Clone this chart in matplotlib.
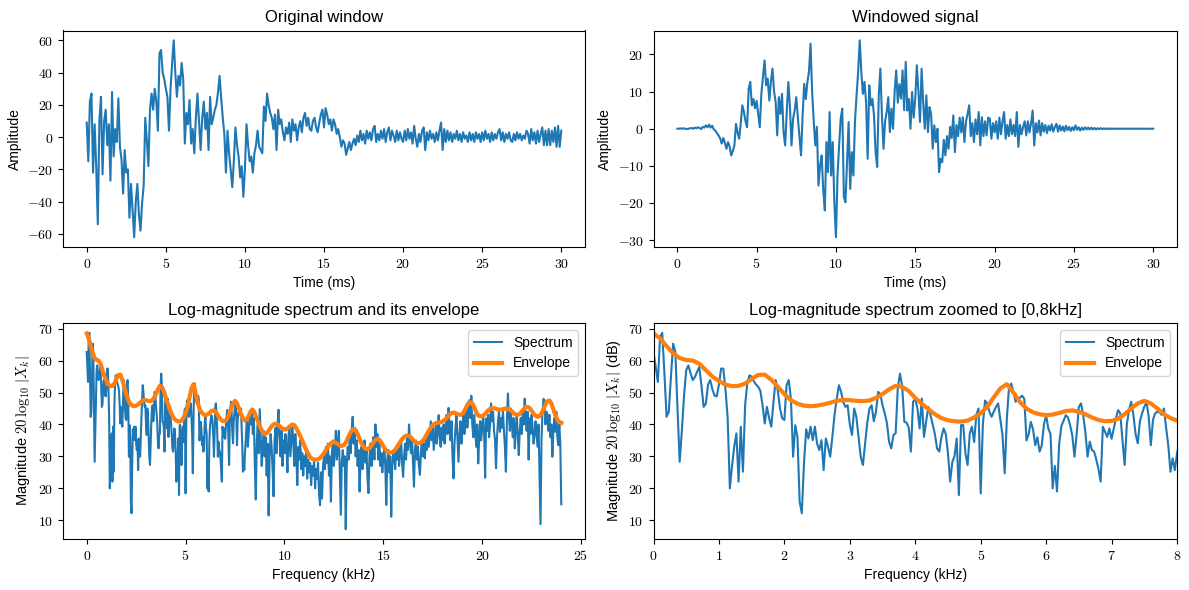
import numpy as np
import matplotlib
matplotlib.use('Agg')
import matplotlib.pyplot as plt
from matplotlib.ticker import FuncFormatter

plt.rcParams['font.family'] = ['Liberation Sans', 'DejaVu Sans']
plt.rcParams['mathtext.fontset'] = 'cm'

# ---------------- data ----------------
# original window, samples every 0.1 ms from 0 to 30 ms
original = [
    9, -15, 22, 27, -22, 8, -18, -54, 10, 25,
    -23, 10, 17, -5, 8, -27, 28, -12, 5, -3,
    24, -6, -14, -35, -8, -22, -20, -50, -29, -45,
    -62, -40, -29, -48, -58, -41, -30, 12, -2, -18,
    17, 27, 17, 30, 22, 4, 52, 54, 40, 36,
    30, 25, 4, 30, 46, 60, 40, 25, 38, 32,
    46, 36, -4, 15, 8, 23, -4, 5, -10, 12,
    27, 10, -8, 12, 22, 5, 15, -8, 25, 8,
    12, 17, 20, 28, 38, 24, 12, 2, -22, 4,
    -10, -20, -31, -15, 6, -5, -12, -25, -18, -37,
    -20, 8, -5, -15, -12, -22, -10, -5, 4, -6,
    -8, -10, 19, 10, 27, 20, 15, 12, 5, 14,
    -8, 17, 8, 11, 3, -2, 6, 2, 9, -3,
    11, 4, 8, -2, 6, 10, 3, 12, 15, 7,
    12, 5, 4, 10, 12, 6, 3, 9, 14, 17,
    6, 18, 14, 8, 11, 4, 11, 8, 2, 5,
    0, -6, -2, -4, -11, -7, -3, -8, -4, -1,
    -5, 1, -3, 4, -2, 2, -4, 4, -1, 3,
    -2, 5, 7, -3, 2, -2, 4, -1, 5, -3,
    3, 6, -2, 4, 1, -3, 4, -2, 3, -1,
    -3, 4, -2, 5, -1, 3, -4, 7, -1, -6,
    2, -3, 4, 6, -8, 3, -2, 4, -1, 2,
    -3, 3, -2, 4, 9, -8, 5, -3, 4, -2,
    3, -3, 2, -1, 4, -2, 2, -3, 3, -1,
    1, -3, 3, -2, 2, -3, 3, -1, 2, -3,
    3, -2, 4, -1, 2, -3, 3, -2, 2, -1,
    3, 5, -2, 3, -3, 2, -1, 3, -2, -3,
    2, -2, 3, -1, 2, -2, 1, -1, 4, 2,
    -4, 5, -2, 3, -4, 4, -3, 2, 6, -5,
    4, -5, 5, -5, 4, -3, 6, -6, 7, -6,
    4,
]

# windowed signal, samples every 0.1 ms from 0 to 30 ms
windowed = [
    0, 0, 0.1, 0, 0.1, 0, -0.1, 0, 0.1, 0.2,
    0, 0.3, 0.1, 0.4, 0.2, -0.1, 0.5, 0.3, 0.9, 0.4,
    1.1, 0.3, 0.8, -0.2, -0.5, -1.2, -1.8, -2.6, -4.0, -2.5,
    -3.8, -5.4, -3.6, -4.8, -7.2, -6.0, -4.5, 1.3, -1.0, -2.7,
    1.5, 6.3, 4.5, 2.0, 0.4, 10.8, 12.6, 6.3, 8.0, 5.5,
    7.5, 4.0, 0.4, 9.4, 14.0, 18.4, 11.7, 13.5, 7.6, 12.6,
    16.2, 10.0, 7.2, -1.8, 8.5, 4.0, 9.4, -1.0, -4.5, 4.5,
    12.6, 6.0, -4.5, 2.7, 5.0, 8.5, 3.0, -2.0, -7.2, 3.6,
    12.1, 8.0, 12.5, 15.3, 22.9, 9.9, 2.0, -4.5, 0.5, -15.3,
    -10.0, -7.2, -16.6, -22.0, -3.6, -11.7, 4.5, -12.6, -3.6, -20.0,
    -29.2, -12.6, -4.5, 2.7, 5.4, -18.4, -19.8, -9.0, 1.8, -16.2,
    -6.3, -12.6, 2.0, 9.0, 15.3, 23.8, 15.3, 9.4, 12.6, 7.2,
    -8.1, 11.7, 6.3, 8.0, 3.6, -6.3, -10.3, 9.0, 16.2, 3.6,
    -5.4, 2.0, 4.5, 8.5, -0.9, 5.4, 0.0, 10.0, 15.7, 7.0,
    12.0, 8.1, 15.7, 5.0, 18.0, 4.9, 8.0, 0.0, 9.9, 3.0,
    8.1, 17.1, 10.0, 1.8, 16.2, 7.0, 0.0, 9.0, -0.9, 5.8,
    4.0, -5.4, 0.9, -3.6, 0.0, -11.7, -8.1, -9.0, -3.0, -7.2,
    -2.0, -5.4, 0.5, -2.5, 3.6, -6.3, 1.0, -2.0, 3.0, -1.0,
    3.1, -3.6, 2.0, 4.0, 6.3, -2.0, 1.5, -3.6, 2.5, -1.5,
    4.5, -4.5, 3.1, -2.0, 2.0, -1.8, 3.0, 2.7, -2.7, 1.5,
    -1.0, 2.0, -2.7, 3.0, -1.5, 2.0, 4.5, -2.7, 1.0, -2.0,
    2.5, -1.5, 1.0, -2.0, 4.5, -4.9, 1.0, -1.5, 0.5, 2.0,
    -1.8, 2.0, -1.0, 1.5, 4.9, -4.5, 1.5, -1.0, 2.2, -1.8,
    1.5, -0.8, 1.0, -1.2, 0.8, -0.5, 1.2, -0.8, 0.5, 1.3,
    -0.8, 0.9, -0.5, 0.6, -0.7, 0.8, -0.4, 0.5, -0.6, 0.4,
    -0.4, 0.9, -0.3, 0.4, -0.5, 0.3, -0.3, 0.4, -0.2, 0.3,
    -0.2, 0.3, -0.2, 0.2, -0.2, 0.15, -0.1, 0.15, -0.1, 0.1,
    -0.1, 0.1, -0.1, 0.08, -0.05, 0.05, -0.05, 0.04, -0.03, 0.03,
    -0.03, 0.03, -0.02, 0.02, -0.02, 0.02, -0.01, 0.01, -0.01, 0.01,
    0, 0, 0, 0, 0, 0, 0, 0, 0, 0,
    0,
]

# log-magnitude spectrum (dB): 0-8 kHz every 1/30 kHz
spectrum_lo = [
    62.7, 58.0, 53.3, 67.4, 68.7, 56.0, 42.4, 44.0, 55.0, 65.3,
    62.7, 45.0, 28.3, 38.0, 49.0, 57.0, 58.5, 56.0, 53.9, 54.9,
    56.5, 58.0, 52.0, 45.5, 46.5, 52.5, 53.9, 51.0, 49.0, 48.8,
    52.5, 57.5, 57.5, 51.0, 42.0, 20.0, 27.0, 33.0, 37.2, 22.1,
    39.3, 25.2, 46.0, 53.0, 55.4, 55.0, 53.5, 52.5, 51.8, 50.5,
    46.0, 40.3, 45.5, 42.0, 39.3, 47.0, 53.9, 50.5, 45.0, 41.9,
    41.4, 52.3, 53.9, 48.0, 29.9, 39.8, 36.0, 15.8, 12.2, 28.0,
    38.5, 35.6, 39.3, 35.1, 39.3, 34.0, 32.0, 35.1, 25.7, 35.6,
    33.0, 29.9, 36.1, 43.0, 48.0, 52.3, 50.2, 47.0, 45.5, 46.0,
    40.0, 36.7, 45.0, 42.4, 36.0, 29.9, 27.3, 34.0, 40.5, 45.0,
    46.0, 41.0, 44.0, 50.2, 49.5, 46.0, 43.5, 40.5, 34.6, 32.5,
    36.7, 37.2, 51.5, 55.9, 52.0, 40.8, 40.6, 39.0, 31.5, 47.1,
    48.0, 45.0, 38.75, 48.1, 36.1, 41.0, 45.5, 42.9, 40.0, 37.0,
    32.5, 31.5, 36.0, 38.75, 37.0, 31.0, 22.1, 28.3, 30.0, 35.6,
    17.9, 39.8, 39.8, 31.0, 27.3, 37.2, 39.3, 34.5, 43.0, 45.0,
    18.4, 40.0, 47.5, 46.5, 44.0, 42.4, 44.0, 45.5, 46.6, 41.5,
    36.7, 24.7, 41.9, 51.8, 52.8, 50.2, 47.1, 48.0, 48.4, 49.0,
    48.0, 35.0, 37.0, 40.8, 38.5, 33.5, 36.0, 31.5, 33.5, 40.0,
    42.9, 38.75, 37.0, 20.0, 27.0, 19.0, 34.0, 39.5, 41.2, 42.9,
    42.2, 39.8, 36.5, 29.9, 37.0, 45.5, 46.6, 42.9, 37.5, 29.9,
    34.6, 32.0, 31.5, 29.0, 26.0, 22.1, 39.3, 37.7, 36.1, 38.75,
    35.5, 38.75, 41.9, 44.5, 43.5, 35.0, 27.3, 40.0, 44.5, 47.1,
    43.0, 37.0, 34.1, 41.0, 43.5, 45.5, 47.1, 42.5, 33.5, 41.5,
    43.5, 44.0, 43.8, 43.0, 45.0, 39.0, 33.5, 25.2, 29.4, 25.7,
    30.9,
]

# log-magnitude spectrum (dB): 8.05-24 kHz every 0.05 kHz
spectrum_hi = [
    36, 42, 33, 38, 44, 40, 45, 37, 42, 28, 16.5, 35, 40, 31, 44.8, 36, 27, 33, 38, 30,
    36, 24, 34, 11.5, 30, 37, 33, 26, 17.5, 35, 39, 31, 40, 44.6, 36, 30, 38, 27, 35, 31,
    37, 33, 25, 36, 39, 30, 35, 40, 34, 27, 37, 31, 21, 33, 29, 35, 26, 31, 24, 30,
    27, 32, 23, 29, 25, 28, 21, 27, 24, 29, 20, 26, 23, 28, 18, 14.7, 25, 16.8, 27, 30,
    26, 33, 28, 34, 24, 30, 15.8, 31, 35, 27, 32, 38, 29, 33, 38, 25, 11.7, 28, 32, 27,
    30, 7.2, 27, 33, 29, 36, 31, 38, 42.4, 34, 39, 30, 35, 27, 32, 19, 29, 33, 26, 31,
    35, 28, 32, 23, 18.5, 30, 34, 27, 31, 36, 29, 40, 33, 37, 29, 34, 27, 31, 25, 30,
    33, 27, 14.8, 29, 32, 25, 30, 11.1, 27, 31, 30.4, 26, 33, 29, 34, 27, 31, 35, 28, 23.6,
    30, 34, 29, 36, 32, 40, 35, 31, 36, 28, 20.5, 32, 35, 29, 33, 27, 24.2, 31, 35, 30,
    34, 29.4, 36, 32, 38, 33, 37, 41, 35, 39, 32, 36, 40, 34, 38, 42.9, 36, 33, 39, 35,
    40, 34, 38, 43, 37, 45.2, 39, 35, 41, 30, 23.1, 34, 39, 43, 36, 28.3, 37, 41, 34, 39,
    43, 37, 41, 46, 39, 44, 47.6, 42, 49, 40, 36, 43, 38, 33, 40, 27.8, 36, 41, 35, 39,
    43, 37, 23.3, 41.9, 38, 43, 36, 40, 46.6, 41, 44, 38, 35, 26.3, 36, 41, 44, 37.7, 42, 39,
    44, 38, 33, 25.2, 41, 49.7, 43, 38, 45, 40, 36, 42, 32.5, 39, 43, 36, 30.4, 38, 42, 37,
    44, 40, 48.1, 42, 38, 44, 29, 41.9, 37, 43, 39, 34, 36.7, 41, 37, 33, 40, 24, 8.8, 35,
    44, 48, 47.6, 40, 44, 42.9, 38, 43, 36, 40, 29.9, 38, 42, 37.7, 44, 36, 33.5, 40, 34, 15,
]

# spectral envelope (dB), every 0.1 kHz from 0 to 24 kHz
envelope = [
    68.5, 67.0, 64.5, 62.3, 60.8, 60.2, 60.0, 59.0, 57.0, 55.0,
    53.6, 52.5, 52.0, 52.1, 52.8, 54.3, 55.5, 55.6, 54.0, 51.8,
    49.5, 47.6, 46.5, 45.9, 45.7, 45.9, 46.3, 46.8, 47.4, 47.7,
    47.6, 47.4, 47.3, 47.5, 48.3, 49.5, 51.0, 52.1, 51.8, 50.5,
    48.3, 46.5, 44.8, 43.2, 42.0, 41.3, 41.0, 40.9, 41.2, 42.2,
    43.5, 45.5, 48.5, 51.3, 52.6, 50.0, 47.0, 45.0, 43.8, 43.2,
    42.9, 43.1, 43.6, 44.2, 44.4, 44.0, 43.2, 42.2, 41.4, 41.0,
    41.1, 41.8, 43.2, 45.0, 46.6, 47.4, 46.6, 45.0, 43.2, 42.0,
    41.2, 41.6, 42.8, 44.2, 44.6, 43.5, 41.8, 40.3, 38.8, 37.6,
    37.0, 37.2, 38.0, 39.0, 39.8, 40.2, 40.2, 39.8, 39.2, 38.7,
    38.4, 38.5, 39.0, 39.6, 40.0, 39.8, 38.8, 37.6, 36.3, 35.0,
    33.5, 32.0, 30.8, 29.8, 29.2, 29.0, 29.0, 29.1, 29.5, 30.2,
    31.0, 32.0, 33.0, 33.8, 34.3, 34.5, 34.3, 33.8, 33.4, 33.3,
    33.5, 34.3, 35.6, 37.0, 38.1, 38.6, 38.2, 37.0, 35.4, 34.0,
    33.0, 32.4, 32.3, 32.6, 33.4, 34.4, 35.2, 35.5, 35.2, 34.3,
    33.2, 32.2, 31.5, 31.2, 31.2, 31.5, 32.1, 33.0, 34.0, 35.0,
    35.8, 36.3, 36.5, 36.4, 35.9, 35.2, 34.6, 34.2, 34.1, 34.3,
    34.9, 35.8, 36.9, 38.0, 39.0, 39.8, 40.3, 40.5, 40.6, 40.7,
    40.9, 41.4, 42.0, 42.8, 43.4, 43.7, 43.7, 43.4, 43.1, 43.0,
    43.3, 44.2, 45.5, 46.6, 47.0, 46.6, 45.4, 43.8, 42.8, 42.6,
    42.6, 43.0, 43.7, 44.4, 44.9, 45.1, 45.1, 44.9, 44.7, 44.6,
    44.7, 44.9, 45.0, 44.9, 44.6, 44.1, 43.5, 43.1, 43.0, 43.3,
    44.0, 44.8, 45.4, 45.5, 45.1, 44.3, 43.4, 42.7, 42.4, 42.6,
    43.4, 44.8, 46.3, 47.3, 47.5, 46.6, 44.8, 42.9, 41.5, 40.8,
    40.5,
]

# ---------------- axes values ----------------
t_orig = np.linspace(0, 30, len(original))
t_win = np.linspace(0, 30, len(windowed))
f_spec = np.concatenate([np.linspace(0, 8, len(spectrum_lo)),
                         np.linspace(8.05, 24, len(spectrum_hi))])
spectrum = np.concatenate([spectrum_lo, spectrum_hi])
f_env = np.linspace(0, 24, len(envelope))

# ---------------- figure ----------------
W, H = 1189, 590
fig = plt.figure(figsize=(W / 100, H / 100), dpi=100)


def box(l, t, r, b):
    return [l / W, 1 - b / H, (r - l) / W, (b - t) / H]


ax1 = fig.add_axes(box(63, 30.5, 585, 247))
ax2 = fig.add_axes(box(653.5, 30.5, 1177, 247))
ax3 = fig.add_axes(box(63, 323, 585, 539))
ax4 = fig.add_axes(box(653.5, 323, 1177, 539))

fmt = FuncFormatter(lambda v, p: f'${v:g}$')

ax1.plot(t_orig, original, color='C0', lw=1.5)
ax1.set_title('Original window')
ax1.set_xlabel('Time (ms)')
ax1.set_ylabel('Amplitude')

ax2.plot(t_win, windowed, color='C0', lw=1.5)
ax2.set_title('Windowed signal')
ax2.set_xlabel('Time (ms)')
ax2.set_ylabel('Amplitude')

for ax in (ax3, ax4):
    ax.plot(f_spec, spectrum, color='C0', lw=1.5, label='Spectrum')
    ax.plot(f_env, envelope, color='C1', lw=3, label='Envelope')
    ax.set_xlabel('Frequency (kHz)')
    ax.legend(loc='upper right')

ax3.set_title('Log-magnitude spectrum and its envelope')
ax3.set_ylabel(r'Magnitude $20\,\log_{10}\,|X_k|$', fontsize=10.5)
ax3.set_xticks([0, 5, 10, 15, 20, 25])

ax4.set_title('Log-magnitude spectrum zoomed to [0,8kHz]')
ax4.set_ylabel(r'Magnitude $20\,\log_{10}\,|X_k|$ (dB)', fontsize=10.5)
ax4.set_xlim(0, 8)
ax4.set_xticks(range(0, 9))

for ax in (ax1, ax2, ax3, ax4):
    ax.xaxis.set_major_formatter(fmt)
    ax.yaxis.set_major_formatter(fmt)

ax1.set_yticks([-60, -40, -20, 0, 20, 40, 60])
ax2.set_yticks([-30, -20, -10, 0, 10, 20])
ax3.set_yticks([10, 20, 30, 40, 50, 60, 70])
ax4.set_yticks([10, 20, 30, 40, 50, 60, 70])
ax1.set_xticks([0, 5, 10, 15, 20, 25, 30])
ax2.set_xticks([0, 5, 10, 15, 20, 25, 30])

fig.savefig('out.png', dpi=100)
